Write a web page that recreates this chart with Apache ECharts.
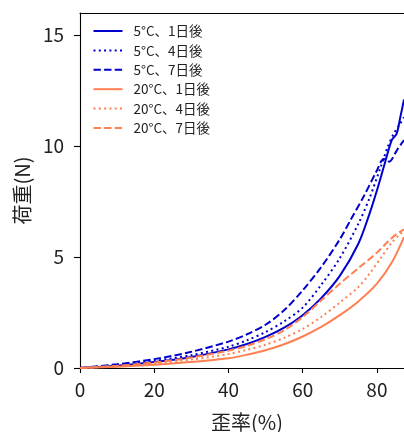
<!DOCTYPE html>
<html>
<head>
<meta charset="utf-8">
<script src="https://cdn.jsdelivr.net/npm/echarts@6/dist/echarts.min.js"></script>
<style>
  html, body { margin: 0; padding: 0; background: #fff; }
  #chart { width: 404px; height: 432px; }
</style>
</head>
<body>
<div id="chart"></div>
<script>
// Load–strain curves: 5°C and 20°C storage, measured after 1, 4 and 7 days
const seriesNames = ['5°C、1日後', '5°C、4日後', '5°C、7日後', '20°C、1日後', '20°C、4日後', '20°C、7日後'];

const strain5c1 = [0, 10, 20, 30, 40, 45, 50, 55, 60, 65, 70, 75, 78, 80, 82, 84, 85.3, 86.3, 87.3];
const load5c1   = [0, 0.1, 0.27, 0.5, 0.84, 1.08, 1.4, 1.82, 2.38, 3.15, 4.15, 5.6, 6.95, 8.0, 9.15, 10.27, 10.55, 11.3, 12.1];

const strain5c4 = [0, 10, 20, 30, 40, 45, 50, 55, 60, 65, 70, 75, 78, 81, 83, 84.5, 86, 87.3];
const load5c4   = [0, 0.13, 0.32, 0.58, 0.96, 1.25, 1.62, 2.1, 2.72, 3.75, 4.95, 6.5, 7.65, 9.05, 10.0, 10.55, 10.95, 11.3];

const strain5c7 = [0, 10, 20, 30, 40, 45, 50, 55, 60, 65, 70, 73, 76.5, 80, 81.8, 82.6, 83.3, 84, 85.4, 87.3];
const load5c7   = [0, 0.17, 0.4, 0.73, 1.19, 1.52, 1.95, 2.6, 3.5, 4.55, 5.8, 6.7, 7.75, 8.9, 9.42, 9.4, 9.3, 9.4, 9.82, 10.27];

const strain20c1 = [0, 10, 20, 30, 40, 45, 50, 55, 60, 65, 70, 75, 80, 84, 87.3];
const load20c1   = [0, 0.06, 0.15, 0.27, 0.44, 0.6, 0.8, 1.07, 1.42, 1.85, 2.38, 3.0, 3.8, 4.75, 5.9];

const strain20c4 = [0, 10, 20, 30, 40, 45, 50, 55, 60, 65, 70, 75, 78, 81, 84, 86, 87.3];
const load20c4   = [0, 0.08, 0.2, 0.38, 0.63, 0.82, 1.05, 1.36, 1.76, 2.3, 2.95, 3.65, 4.25, 4.95, 5.65, 6.0, 6.18];

const strain20c7 = [0, 10, 20, 30, 40, 45, 50, 55, 60, 65, 70, 75, 80, 83, 85, 87.3];
const load20c7   = [0, 0.1, 0.25, 0.47, 0.78, 1.0, 1.3, 1.7, 2.3, 3.05, 3.8, 4.5, 5.2, 5.7, 6.0, 6.25];

const xTicks = [0, 20, 40, 60, 80];
const yTicks = [0, 5, 10, 15];

const BLUE = '#0000cd';
const ORANGE = '#ff7f50';
const FONT = '"Noto Sans CJK JP", "Noto Sans", sans-serif';
const DOTTED = [2, 3.3];
const DASHED = [7.4, 3.2];

function pairs(xs, ys) {
  return xs.map((x, i) => [x, ys[i]]);
}

const curves = [
  { x: strain5c1, y: load5c1, color: BLUE, dash: 'solid' },
  { x: strain5c4, y: load5c4, color: BLUE, dash: DOTTED },
  { x: strain5c7, y: load5c7, color: BLUE, dash: DASHED },
  { x: strain20c1, y: load20c1, color: ORANGE, dash: 'solid' },
  { x: strain20c4, y: load20c4, color: ORANGE, dash: DOTTED },
  { x: strain20c7, y: load20c7, color: ORANGE, dash: DASHED }
];

const chart = echarts.init(document.getElementById('chart'), null, { renderer: 'canvas' });

const axisLineStyle = { color: '#000', width: 1.1 };

chart.setOption({
  animation: false,
  backgroundColor: '#fff',
  textStyle: { fontFamily: FONT },
  grid: { left: 80, top: 13, right: 0, height: 355, containLabel: false, outerBoundsMode: 'none' },
  legend: {
    orient: 'vertical',
    left: 92.5,
    top: 24,
    padding: 0,
    itemWidth: 29,
    itemHeight: 14,
    itemGap: 5.4,
    itemStyle: { opacity: 0 },
    textStyle: { fontFamily: FONT, fontSize: 13.5, lineHeight: 14, color: '#222', padding: [0, 0, 0, 6] },
    data: seriesNames
  },
  xAxis: [
    {
      type: 'value',
      min: 0,
      max: 87.3,
      interval: 20,
      splitLine: { show: false },
      axisLine: { lineStyle: axisLineStyle },
      axisTick: { show: true, length: 5, inside: false, customValues: xTicks, lineStyle: axisLineStyle },
      axisLabel: { customValues: xTicks, fontSize: 19, color: '#222', margin: 12, fontFamily: FONT },
      name: '歪率(%)',
      nameLocation: 'middle',
      nameGap: 44,
      nameTextStyle: { fontSize: 20, color: '#222', fontFamily: FONT, padding: [0, 0, 0, 10] }
    },
    {
      type: 'value',
      position: 'top',
      min: 0,
      max: 87.3,
      splitLine: { show: false },
      axisLine: { show: true, lineStyle: axisLineStyle },
      axisTick: { show: false },
      axisLabel: { show: false }
    }
  ],
  yAxis: {
    type: 'value',
    min: 0,
    max: 16,
    interval: 5,
    splitLine: { show: false },
    axisLine: { show: true, lineStyle: axisLineStyle },
    axisTick: { show: true, length: 6, inside: false, customValues: yTicks, lineStyle: axisLineStyle },
    axisLabel: { customValues: yTicks, fontSize: 19, color: '#222', margin: 16, fontFamily: FONT },
    name: '荷重(N)',
    nameLocation: 'middle',
    nameGap: 48,
    nameRotate: 90,
    nameTextStyle: { fontSize: 20, color: '#222', fontFamily: FONT }
  },
  series: curves.map((c, i) => ({
    name: seriesNames[i],
    type: 'line',
    xAxisIndex: 0,
    data: pairs(c.x, c.y),
    symbol: 'none',
    smooth: 0.3,
    clip: true,
    color: c.color,
    lineStyle: { color: c.color, width: 2, type: c.dash }
  }))
});
</script>
</body>
</html>
